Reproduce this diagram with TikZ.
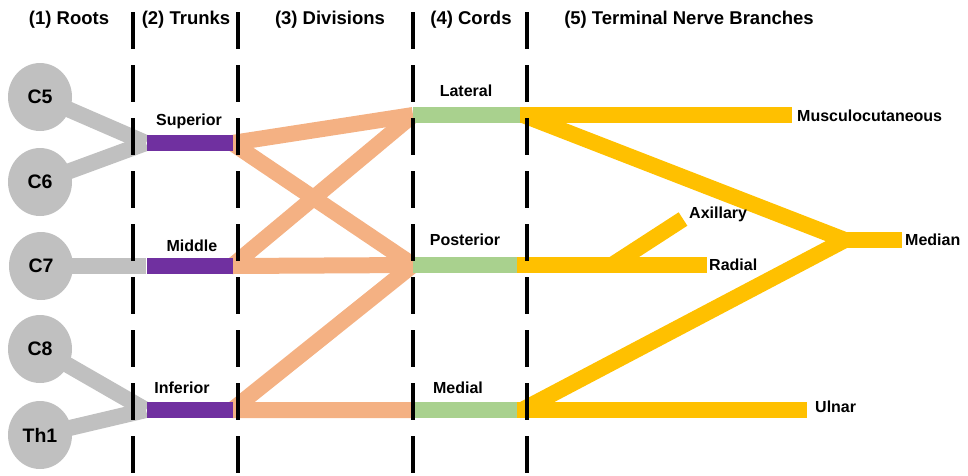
\documentclass[tikz,border=0pt]{standalone}
\usepackage{fontspec}
\setmainfont{Liberation Sans}
\usetikzlibrary{shapes.geometric}
\definecolor{rootgray}{HTML}{C0C0C0}
\definecolor{trunkpurple}{HTML}{7030A0}
\definecolor{divorange}{HTML}{F4B183}
\definecolor{cordgreen}{HTML}{A9D18E}
\definecolor{branchyellow}{HTML}{FFC000}
\tikzset{
  rootnode/.style={ellipse, fill=rootgray, minimum width=64pt, minimum height=68pt, inner sep=0pt, font=\fontsize{19.5}{21}\selectfont\bfseries},
  trunkbar/.style={rectangle, fill=trunkpurple, minimum height=16pt, inner sep=0pt},
  cordbar/.style={rectangle, fill=cordgreen, minimum height=16pt, inner sep=0pt},
  title/.style={font=\fontsize{18.5}{20}\selectfont\bfseries, inner sep=0pt},
  lbl/.style={font=\fontsize{16}{18}\selectfont\bfseries, inner sep=0pt},
  rootline/.style={draw=rootgray, line width=16pt},
  divline/.style={draw=divorange, line width=16pt, line join=round},
  brline/.style={draw=branchyellow, line width=16pt, line join=round},
  sepline/.style={draw=black, line width=4pt, dash pattern=on 37pt off 16pt}
}
\begin{document}
\begin{tikzpicture}[x=1pt,y=-1pt]
\useasboundingbox (0,0) rectangle (968,475);
% titles
\node[title] (t1) at (69,20) {(1) Roots};
\node[title] (t2) at (186,20) {(2) Trunks};
\node[title] (t3) at (330,20) {(3) Divisions};
\node[title] (t4) at (471,20) {(4) Cords};
\node[title] (t5) at (689,20) {(5) Terminal Nerve Branches};
% trunk bar centres
\coordinate (supc) at (189.5,143);
\coordinate (midc) at (189.5,266);
\coordinate (infc) at (189.5,410);
% gray root lines
\coordinate (supw) at (146,143);
\coordinate (midw) at (146,266);
\coordinate (infw) at (146,410);
\path (40,97) coordinate (c5c) (40,182) coordinate (c6c) (41,266) coordinate (c7c) (40,349) coordinate (c8c) (40,435) coordinate (th1c);
\draw[rootline] (c5c) -- (supw);
\draw[rootline] (c6c) -- (supw);
\draw[rootline] (c7c) -- (midw);
\draw[rootline] (c8c) -- (infw);
\draw[rootline] (th1c) -- (infw);
\node[rootnode] (C5) at (c5c) {C5};
\node[rootnode] (C6) at (c6c) {C6};
\node[rootnode] (C7) at (c7c) {C7};
\node[rootnode] (C8) at (c8c) {C8};
\node[rootnode] (Th1) at (th1c) {Th1};
% coordinates for cords
\coordinate (latw) at (413,115);
\coordinate (postw) at (413,265);
\coordinate (medw) at (413,410);
% orange divisions
\draw[divline] (latw) -- (232,143) coordinate (supe) -- (postw);
\draw[divline] (latw) -- (232,266) coordinate (mide) -- (postw);
\draw[divline] (postw) -- (232,410) coordinate (infe) -- (medw);
% yellow branches
\coordinate (late) at (520,115);
\coordinate (poste) at (517,265);
\coordinate (mede) at (517,410);
\coordinate (medJ) at (845,240);
\coordinate (axJ) at (612,265);
\draw[brline] (late) -- (792,115) coordinate (muscE);
\draw[brline] (523,115) -- (medJ) -- (522,410);
\draw[brline] (medJ) -- (902,240) coordinate (medianE);
\draw[brline] (mede) -- (807,410) coordinate (ulnarE);
\draw[brline] (poste) -- (707,265) coordinate (radialE);
\draw[brline] (axJ) -- (683,219) coordinate (axE);
% bars
\node[trunkbar, minimum width=86pt] (sup) at (supc) {};
\node[trunkbar, minimum width=86pt] (mid) at (midc) {};
\node[trunkbar, minimum width=86pt] (inf) at (infc) {};
\node[cordbar, minimum width=107pt] (lat) at (466.5,115) {};
\node[cordbar, minimum width=104pt] (post) at (465,265) {};
\node[cordbar, minimum width=104pt] (med) at (465,410) {};
% bar labels
\node[lbl] (lsup) at (189,121) {Superior};
\node[lbl] (lmid) at (192,246) {Middle};
\node[lbl] (linf) at (182,388) {Inferior};
\node[lbl] (llat) at (466,91) {Lateral};
\node[lbl] (lpost) at (465,240) {Posterior};
\node[lbl] (lmed) at (458,388) {Medial};
% terminal labels
\node[lbl, anchor=west] (lmusc) at (797,116) {Musculocutaneous};
\node[lbl, anchor=west] (lmedian) at (905,240) {Median};
\node[lbl, anchor=west] (lax) at (689,214) {Axillary};
\node[lbl, anchor=west] (lrad) at (709,265) {Radial};
\node[lbl, anchor=west] (luln) at (815,407) {Ulnar};
% dashed separators
\foreach \x/\n in {133/a,238/b,413/c,527/d}{
  \coordinate (s\n t) at (\x,12);
  \coordinate (s\n b) at (\x,475);
  \draw[sepline] (s\n t) -- (s\n b);
}
\end{tikzpicture}
\end{document}
